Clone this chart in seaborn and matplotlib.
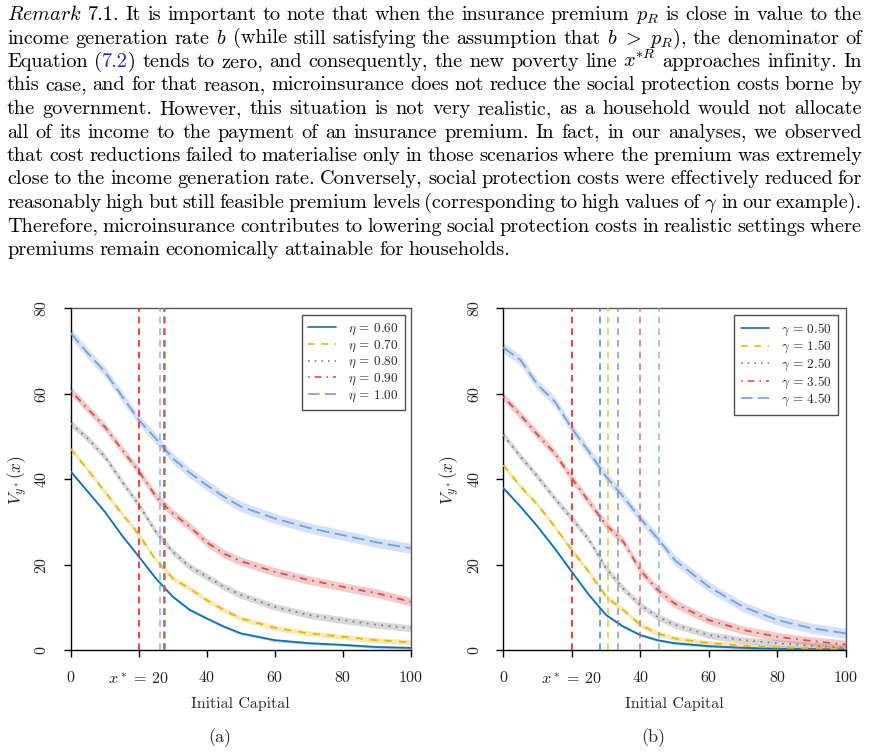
import re
import matplotlib
matplotlib.use("Agg")
import matplotlib.pyplot as plt
import matplotlib.transforms as mtransforms
from matplotlib.lines import Line2D
import pandas as pd
import seaborn as sns

sns.set_style("ticks")
plt.rcParams["font.family"] = ["cmr10", "DejaVu Serif"]
plt.rcParams["mathtext.fontset"] = "cm"
plt.rcParams["axes.formatter.use_mathtext"] = True

# ---- data ----
capital = [0, 5, 10, 15, 20, 25, 30, 35, 40, 45, 50, 60, 70, 80, 90, 100]

eta_labels = ["0.60", "0.70", "0.80", "0.90", "1.00"]
eta_060 = [41.8, 37.1, 32.4, 26.9, 21.9, 16.8, 12.5, 9.4, 7.4, 5.5, 3.9, 2.3, 1.6, 1.2, 0.7, 0.5]
eta_070 = [47.1, 42.2, 37.1, 32.0, 27.1, 21.1, 16.8, 14.4, 11.7, 9.4, 7.4, 5.2, 3.9, 3.1, 2.3, 1.8]
eta_080 = [53.1, 49.5, 45.3, 39.5, 34.0, 27.7, 23.0, 19.5, 17.2, 14.8, 12.9, 10.1, 8.2, 7.0, 5.9, 5.1]
eta_090 = [60.7, 56.5, 52.3, 47.0, 41.9, 36.0, 32.0, 28.9, 25.2, 22.6, 20.8, 18.3, 16.4, 14.8, 13.3, 11.3]
eta_100 = [74.2, 69.5, 65.2, 59.5, 53.9, 49.5, 44.9, 41.5, 38.6, 35.9, 33.6, 30.8, 28.6, 26.9, 25.2, 23.8]
eta_band = [0.3, 0.6, 0.8, 1.0, 1.2]
eta_poverty = [27.3, 27.4, 27.4, 27.8, 26.2]

gamma_labels = ["0.50", "1.50", "2.50", "3.50", "4.50"]
gamma_050 = [37.9, 33.6, 28.9, 23.8, 18.3, 12.9, 8.2, 5.5, 3.5, 2.3, 1.6, 0.9, 0.5, 0.3, 0.2, 0.1]
gamma_150 = [43.3, 38.3, 34.0, 28.9, 23.4, 18.3, 12.5, 9.4, 5.9, 3.9, 2.7, 1.6, 1.0, 0.6, 0.4, 0.3]
gamma_250 = [50.4, 45.3, 40.6, 35.5, 30.8, 25.8, 19.1, 14.4, 10.5, 7.8, 5.9, 3.5, 2.3, 1.6, 1.0, 0.5]
gamma_350 = [59.3, 55.0, 50.4, 46.1, 40.2, 34.7, 29.3, 25.4, 18.7, 14.1, 10.9, 7.0, 4.7, 3.1, 2.1, 1.3]
gamma_450 = [70.8, 67.9, 62.1, 58.2, 51.9, 46.4, 40.6, 35.9, 30.8, 26.2, 21.1, 14.8, 10.1, 7.0, 5.1, 3.9]
gamma_band = [0.3, 0.6, 0.8, 1.0, 1.2]
gamma_poverty = [28.3, 30.5, 33.4, 40.0, 45.6]

base_poverty = 20

paragraph = [
    r"$\mathit{Remark}$ 7.1. It is important to note that when the insurance premium $p_R$ is close in value to the",
    r"income generation rate $b$ (while still satisfying the assumption that $b\ >\ p_R$), the denominator of",
    r"Equation (7.2) tends to zero, and consequently, the new poverty line $x^{*R}$ approaches infinity. In",
    r"this case, and for that reason, microinsurance does not reduce the social protection costs borne by",
    r"the government. However, this situation is not very realistic, as a household would not allocate",
    r"all of its income to the payment of an insurance premium. In fact, in our analyses, we observed",
    r"that cost reductions failed to materialise only in those scenarios where the premium was extremely",
    r"close to the income generation rate. Conversely, social protection costs were effectively reduced for",
    r"reasonably high but still feasible premium levels (corresponding to high values of $\gamma$ in our example).",
    r"Therefore, microinsurance contributes to lowering social protection costs in realistic settings where",
    r"premiums remain economically attainable for households.",
]

colors = ["#0a72c2", "#ebb800", "#7f7f7f", "#d8504c", "#74a0e0"]
dashes = ["", (4, 4), (1, 3), (1, 3, 4, 3), (7, 3)]
link_blue = "#2424d8"
W, H = 871, 752
FS = 14.6

fig = plt.figure(figsize=(W / 100, H / 100), dpi=100)
renderer = fig.canvas.get_renderer()
ident = mtransforms.IdentityTransform()


def make_pieces(word):
    if word == "(7.2)":
        return [("(", "black"), ("7.2", link_blue), (")", "black")]
    return [(word, "black")]


# justified paragraph, one word at a time
x_left, x_right = 7, 862
for i, line in enumerate(paragraph):
    words = re.findall(r"(?:\$[^$]*\$|[^\s$])+", line)
    groups = []
    for w in words:
        objs = []
        for s, c in make_pieces(w):
            t = fig.text(0, 0, s, color=c, fontsize=FS, transform=ident, va="baseline", ha="left")
            objs.append((t, t.get_window_extent(renderer).width))
        groups.append(objs)
    total = sum(wd for g in groups for _, wd in g)
    last = i == len(paragraph) - 1
    gap = 5.5 if last else max(3, (x_right - x_left - total) / (len(groups) - 1))
    y = H - (20 + 23.5 * i)
    x = x_left
    for g in groups:
        for t, wd in g:
            t.set_position((x, y))
            x += wd
        x += gap


def panel(ax, sym, labels, series, bands, poverty, leg_x):
    rows = []
    for lab, vals in zip(labels, series):
        for c, v in zip(capital, vals):
            rows.append({"capital": c, "value": v, "param": lab})
    df = pd.DataFrame(rows)
    pal = dict(zip(labels, colors))
    sns.lineplot(data=df, x="capital", y="value", hue="param", style="param",
                 palette=pal, dashes=dict(zip(labels, dashes)), lw=1.3,
                 legend=False, ax=ax, zorder=3)
    for lab, vals, b, col in zip(labels, series, bands, colors):
        ax.fill_between(capital, [v - b for v in vals], [v + b for v in vals],
                        color=col, alpha=0.3, lw=0, zorder=2)
    ax.axvline(base_poverty, color="#ff1a1a", ls=(0, (4, 3)), lw=1.2, zorder=4)
    for p, col in zip(poverty, colors):
        ax.axvline(p, color=col, ls=(0, (4, 3)), lw=1.2, alpha=0.75, zorder=4)

    ax.set_xlim(0, 100)
    ax.set_ylim(0, 80)
    ax.set_xticks([0, 20, 40, 60, 80, 100])
    ax.set_xticklabels(["0", r"$x^*$ = 20", "40", "60", "80", "100"])
    ax.get_xticklabels()[1].set_color("#ff3b3b")
    ax.set_yticks([0, 20, 40, 60, 80])
    ax.set_yticklabels(["0", "20", "40", "60", "80"])
    ax.tick_params(axis="both", direction="out", length=5, width=1, color="black",
                   labelsize=11.5, labelcolor="#222222")
    ax.tick_params(axis="x", pad=10)
    ax.tick_params(axis="y", pad=11, labelrotation=90)
    for t in ax.get_yticklabels():
        t.set_va("center")
    for side in ["top", "right"]:
        ax.spines[side].set_color("#555555")
    for side in ["left", "bottom"]:
        ax.spines[side].set_color("black")
    for sp in ax.spines.values():
        sp.set_linewidth(1.0)
    ax.set_xlabel("")
    ax.set_ylabel("")

    handles = [Line2D([], [], color=c, lw=1.2, dashes=d if d else (None, None))
               for c, d in zip(colors, dashes)]
    handles[0].set_linestyle("-")
    leg = ax.legend(handles, [rf"${sym}$ = {l}" for l in labels], loc="upper right",
                    bbox_to_anchor=(leg_x, 0.98), borderaxespad=0, fontsize=9.5,
                    frameon=True, fancybox=False, handlelength=2.1, labelspacing=0.1,
                    handletextpad=0.9, borderpad=0.5)
    leg.get_frame().set_edgecolor("#222222")
    leg.get_frame().set_linewidth(1.0)


ax_a = fig.add_axes([70.7 / W, 102 / H, 340 / W, 341.7 / H])
ax_b = fig.add_axes([503.3 / W, 102 / H, 342.5 / W, 341.7 / H])

panel(ax_a, r"\eta", eta_labels, [eta_060, eta_070, eta_080, eta_090, eta_100],
      eta_band, eta_poverty, 0.983)
panel(ax_b, r"\gamma", gamma_labels, [gamma_050, gamma_150, gamma_250, gamma_350, gamma_450],
      gamma_band, gamma_poverty, 0.977)

# axis titles placed like the R figure
for xc, yl in [(240.7, 18), (674.5, 450)]:
    fig.text(xc / W, 1 - 704 / H, "Initial Capital", fontsize=11.5, ha="center", va="center")
    fig.text(yl / W, 1 - 480 / H, r"$V_{y^*}(x)$", fontsize=12.5, rotation=90,
             ha="center", va="center")

fig.text(220 / W, 1 - 738 / H, "(a)", fontsize=13, ha="center", va="center")
fig.text(653 / W, 1 - 738 / H, "(b)", fontsize=13, ha="center", va="center")

fig.savefig("out.png", dpi=100)
